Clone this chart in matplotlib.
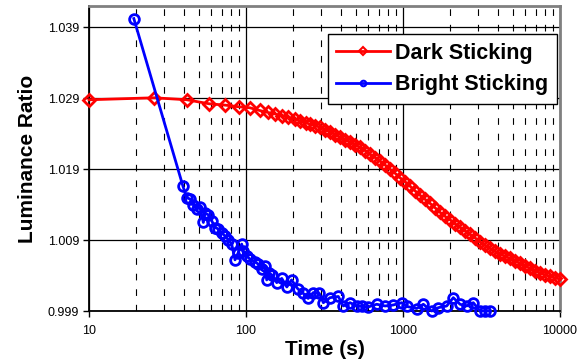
import matplotlib

matplotlib.use("Agg")
import matplotlib.pyplot as plt
from matplotlib.ticker import FixedLocator, LogLocator, NullFormatter

plt.rcParams["font.family"] = ["Liberation Sans", "DejaVu Sans"]

# Dark sticking: luminance ratio vs time (s)
dark_t = [10, 26, 42, 58, 74, 90, 106, 122, 138, 154, 170, 186,
          205, 220, 240, 255, 275, 295, 320, 345, 370, 395, 425, 460,
          495, 530, 575, 615, 665, 715, 770, 825, 890, 955, 1030, 1110,
          1190, 1285, 1380, 1485, 1600, 1720, 1850, 1995, 2145, 2310,
          2485, 2670, 2875, 3095, 3330, 3585, 3855, 4150, 4465, 4805,
          5170, 5565, 5985, 6440, 6930, 7460, 8025, 8635, 9295, 10000]
dark_v = [1.02878, 1.02906, 1.02878, 1.02822, 1.02802, 1.02779, 1.02765,
          1.02727, 1.02699, 1.02677, 1.02652, 1.02631,
          1.02604, 1.02581, 1.02557, 1.02533, 1.02515, 1.02491, 1.02458,
          1.02423, 1.02388, 1.02352, 1.02317, 1.02282, 1.02246, 1.02208,
          1.02161, 1.02112, 1.02063, 1.02013, 1.01957, 1.01900, 1.01843,
          1.01780, 1.01723, 1.01660, 1.01596, 1.01532, 1.01476, 1.01419,
          1.01356, 1.01292, 1.01236, 1.01186, 1.01130, 1.01080, 1.01031,
          1.00981, 1.00932, 1.00875, 1.00826, 1.00783, 1.00741, 1.00706,
          1.00670, 1.00642, 1.00607, 1.00571, 1.00536, 1.00501, 1.00465,
          1.00437, 1.00409, 1.00388, 1.00366, 1.00352]

# Bright sticking: luminance ratio vs time (s)
bright_t = [19.3, 39.7, 41.9, 44.0, 46.2, 48.5, 50.9, 53.5, 54.8, 57.5,
            60.5, 63.5, 66.3, 70.0, 73.5, 77.2, 81.1, 85.1, 89.3, 93.9,
            96.1, 101, 106, 114, 120, 126, 132, 135.5, 140, 146, 157, 169,
            182, 195, 214, 232, 249, 268, 293, 311, 343, 387, 417, 460,
            507, 548, 601, 680, 768, 867, 981, 1056, 1223, 1347, 1523,
            1678, 1898, 2091, 2308, 2545, 2804, 3094, 3330, 3583]
bright_v = [1.04023, 1.01657, 1.01497, 1.01479, 1.01398, 1.01337, 1.01360,
            1.01148, 1.01278, 1.01257, 1.01172, 1.01077, 1.01059, 1.01003,
            1.00960, 1.00904, 1.00843, 1.00621, 1.00724, 1.00843, 1.00748,
            1.00677, 1.00631, 1.00593, 1.00560, 1.00489, 1.00536, 1.00338,
            1.00437, 1.00409, 1.00300, 1.00359, 1.00239, 1.00338, 1.00211,
            1.00147, 1.00077, 1.00159, 1.00147, 1.00017, 1.00088, 1.00105,
            0.99971, 1.00017, 0.99971, 0.99964, 0.99957, 0.99995, 0.99971,
            0.99985, 1.00017, 0.99964, 0.99935, 0.99995, 0.99900, 0.99947,
            0.99971, 1.00088, 0.99995, 0.99971, 1.00017, 0.99900, 0.99900,
            0.99900]

y_ticks = [0.999, 1.009, 1.019, 1.029, 1.039]
x_ticks = [10, 100, 1000, 10000]

fig = plt.figure(figsize=(5.86, 3.6), dpi=100)
ax = fig.add_axes([89 / 586, 1 - 311 / 360, 471 / 586, 305 / 360])

ax.plot(dark_t, dark_v, color="#ff0000", lw=2, marker="D", ms=6.5,
        mfc="none", mec="#ff0000", mew=2, label="Dark Sticking",
        clip_on=False, zorder=3)
ax.plot(bright_t, bright_v, color="#0000ff", lw=2, marker="o", ms=7,
        mfc="none", mec="#0000ff", mew=2, label="Bright Sticking",
        clip_on=False, zorder=4)

ax.set_xscale("log")
ax.set_xlim(10, 10000)
ax.set_ylim(0.999, 1.042)
ax.xaxis.set_major_locator(FixedLocator(x_ticks))
ax.set_xticklabels([str(v) for v in x_ticks])
ax.xaxis.set_minor_locator(LogLocator(base=10, subs=range(2, 10)))
ax.xaxis.set_minor_formatter(NullFormatter())
ax.yaxis.set_major_locator(FixedLocator(y_ticks))
ax.set_yticklabels([f"{v:.3f}" for v in y_ticks])

ax.grid(True, which="major", color="black", lw=0.9, ls="-", zorder=1)
ax.grid(True, which="minor", axis="x", color="black", lw=0.8,
        ls=(0, (6, 8)), zorder=1)
ax.set_axisbelow(True)

ax.tick_params(axis="both", which="major", direction="out", length=4,
               width=1, labelsize=9, color="black", pad=3)
ax.tick_params(axis="x", which="major", pad=6)
ax.tick_params(axis="x", which="minor", length=0)

for side in ("top", "right"):
    ax.spines[side].set_color("#808080")
    ax.spines[side].set_linewidth(2)
for side in ("left", "bottom"):
    ax.spines[side].set_color("black")
    ax.spines[side].set_linewidth(1.3)

ax.set_xlabel("Time (s)", fontsize=15, fontweight="bold", labelpad=2)
ax.set_ylabel("Luminance Ratio", fontsize=15, fontweight="bold", labelpad=8)

leg = ax.legend(loc="upper right", bbox_to_anchor=(0.994, 0.908),
                borderaxespad=0, fancybox=False, framealpha=1,
                edgecolor="black", numpoints=1, handlelength=2.5,
                handletextpad=0.25, labelspacing=0.5, borderpad=0.4,
                prop={"size": 15.5, "weight": "bold"})
leg.get_frame().set_linewidth(1)
for h in leg.legend_handles:
    h.set_markersize(4)
    h.set_markeredgewidth(1.5)

fig.savefig("out.png", dpi=100, facecolor="white")
